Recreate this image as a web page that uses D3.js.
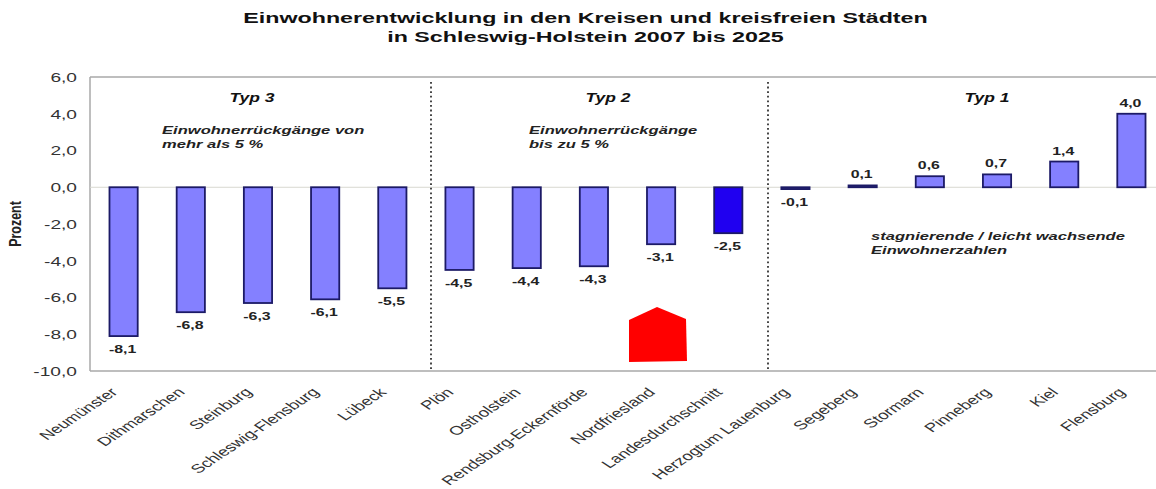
<!DOCTYPE html>
<html lang="de">
<head>
<meta charset="UTF-8">
<title>Einwohnerentwicklung Schleswig-Holstein</title>
<script src="https://d3js.org/d3.v7.min.js"></script>
<style>
    html, body { margin: 0; padding: 0; background: #fff; overflow: hidden; }
    text { font-family: "Liberation Sans", Arial, sans-serif; }
</style>
</head>
<body>
<div id="chart"></div>
<script>
// Data
var categories = ["Neumünster", "Dithmarschen", "Steinburg", "Schleswig-Flensburg", "Lübeck",
    "Plön", "Ostholstein", "Rendsburg-Eckernförde", "Nordfriesland", "Landesdurchschnitt",
    "Herzogtum Lauenburg", "Segeberg", "Stormarn", "Pinneberg", "Kiel", "Flensburg"];
var values = [-8.1, -6.8, -6.3, -6.1, -5.5, -4.5, -4.4, -4.3, -3.1, -2.5, -0.1, 0.1, 0.6, 0.7, 1.4, 4.0];
var yTicks = [6, 4, 2, 0, -2, -4, -6, -8, -10];
var titleLines = ["Einwohnerentwicklung in den Kreisen und kreisfreien Städten",
    "in Schleswig-Holstein 2007 bis 2025"];
var highlight = "Landesdurchschnitt";

var width = 1156, height = 489;
var comma = function(v) { return v.toFixed(1).replace(".", ","); };

var svg = d3.select("#chart").append("svg")
    .attr("width", width)
    .attr("height", height)
    .style("display", "block");

// Scales
var x = d3.scaleBand().domain(categories).range([90, 1165]).paddingInner(0.58).paddingOuter(0.29);
var y = d3.scaleLinear().domain([-10, 6]).range([371, 77]);

// helper: the source picture is stretched sideways, so text gets stretched too
function label(px, py, str, o) {
    return svg.append("text")
        .attr("transform", "translate(" + px + "," + py + ") scale(" + (o.sx || 1) + ",1)")
        .attr("text-anchor", o.anchor || "start")
        .attr("font-size", o.size)
        .attr("font-weight", o.weight || "normal")
        .attr("font-style", o.style || "normal")
        .attr("fill", o.fill || "#222")
        .text(str);
}

// Title
label(585.5, 23, titleLines[0], { anchor: "middle", size: 15.5, weight: "bold", sx: 1.5, fill: "#111" });
label(585.5, 42, titleLines[1], { anchor: "middle", size: 15.5, weight: "bold", sx: 1.5, fill: "#111" });

// Y axis
var tickStretch = 1.42;
var yAxis = svg.append("g")
    .attr("transform", "translate(90,0)")
    .call(d3.axisLeft(y).tickValues(yTicks).tickSize(0).tickPadding(13).tickFormat(comma));
yAxis.select(".domain").remove();
yAxis.selectAll("text")
    .attr("x", -13 / tickStretch)
    .attr("transform", "scale(" + tickStretch + ",1)")
    .attr("font-size", 13.5)
    .attr("fill", "#333")
    .style("font-family", "'Liberation Sans', Arial, sans-serif");

label(0, 0, "Prozent", { anchor: "middle", size: 16, weight: "bold", fill: "#222" })
    .attr("transform", "translate(21,224) rotate(-90) scale(0.78,1)");

// Frame
var frameColor = "#a8a8a8";
svg.append("line").attr("x1", 90).attr("x2", width).attr("y1", y(6)).attr("y2", y(6))
    .attr("stroke", frameColor).attr("stroke-width", 1.5);
svg.append("line").attr("x1", 90).attr("x2", width).attr("y1", y(-10)).attr("y2", y(-10))
    .attr("stroke", frameColor).attr("stroke-width", 1.5);
svg.append("line").attr("x1", 90).attr("x2", 90).attr("y1", y(6)).attr("y2", y(-10))
    .attr("stroke", frameColor).attr("stroke-width", 1.5);
svg.append("line").attr("x1", 90).attr("x2", width).attr("y1", y(0)).attr("y2", y(0))
    .attr("stroke", "#d8d8d0").attr("stroke-width", 1);

// Dotted dividers between the types
[431, 768].forEach(function(dx) {
    svg.append("line")
        .attr("x1", dx).attr("x2", dx)
        .attr("y1", 82).attr("y2", 369)
        .attr("stroke", "#333")
        .attr("stroke-width", 1.8)
        .attr("stroke-dasharray", "1.8 2.8");
});

// Bars
svg.selectAll("rect.bar")
    .data(categories)
    .enter().append("rect")
    .attr("class", "bar")
    .attr("x", function(d) { return x(d); })
    .attr("width", x.bandwidth())
    .attr("y", function(d, i) { return y(Math.max(0, values[i])); })
    .attr("height", function(d, i) { return Math.abs(y(values[i]) - y(0)); })
    .attr("fill", function(d) { return d === highlight ? "#2000f0" : "#8480ff"; })
    .attr("stroke", "#1c1a66")
    .attr("stroke-width", 1.8);

// Value labels
svg.selectAll("text.value")
    .data(categories)
    .enter().append("text")
    .attr("class", "value")
    .attr("transform", function(d, i) {
        var py = values[i] < 0 ? y(values[i]) + 17 : y(values[i]) - 7;
        return "translate(" + (x(d) + x.bandwidth() / 2 - 1) + "," + py + ") scale(1.38,1)";
    })
    .attr("text-anchor", "middle")
    .attr("font-size", 11.5)
    .attr("font-weight", "bold")
    .attr("fill", "#222")
    .text(function(d, i) { return comma(values[i]); });

// Category labels
svg.selectAll("text.cat")
    .data(categories)
    .enter().append("text")
    .attr("class", "cat")
    .attr("transform", function(d) {
        return "translate(" + (x(d) + x.bandwidth() / 2 - 5) + ",393) scale(1.5,1) rotate(-45)";
    })
    .attr("text-anchor", "end")
    .attr("font-size", 12.4)
    .attr("fill", "#333")
    .text(function(d) { return d; });

// Type headings and notes
var noteStyle = { size: 11.5, weight: "bold", style: "italic", sx: 1.44, fill: "#222" };
var headStyle = { anchor: "middle", size: 12.5, weight: "bold", style: "italic", sx: 1.4, fill: "#111" };
label(252, 102, "Typ 3", headStyle);
label(608, 102, "Typ 2", headStyle);
label(987, 102, "Typ 1", headStyle);
label(162, 134, "Einwohnerrückgänge von", noteStyle);
label(162, 148, "mehr als 5 %", noteStyle);
label(529, 134, "Einwohnerrückgänge", noteStyle);
label(529, 148, "bis zu 5 %", noteStyle);
label(871, 240, "stagnierende / leicht wachsende", noteStyle);
label(871, 254, "Einwohnerzahlen", noteStyle);

// Red marker
svg.append("polygon")
    .attr("points", "629,320 657,307 686,319 687,361 629,362")
    .attr("fill", "#ff0000");
</script>
</body>
</html>
